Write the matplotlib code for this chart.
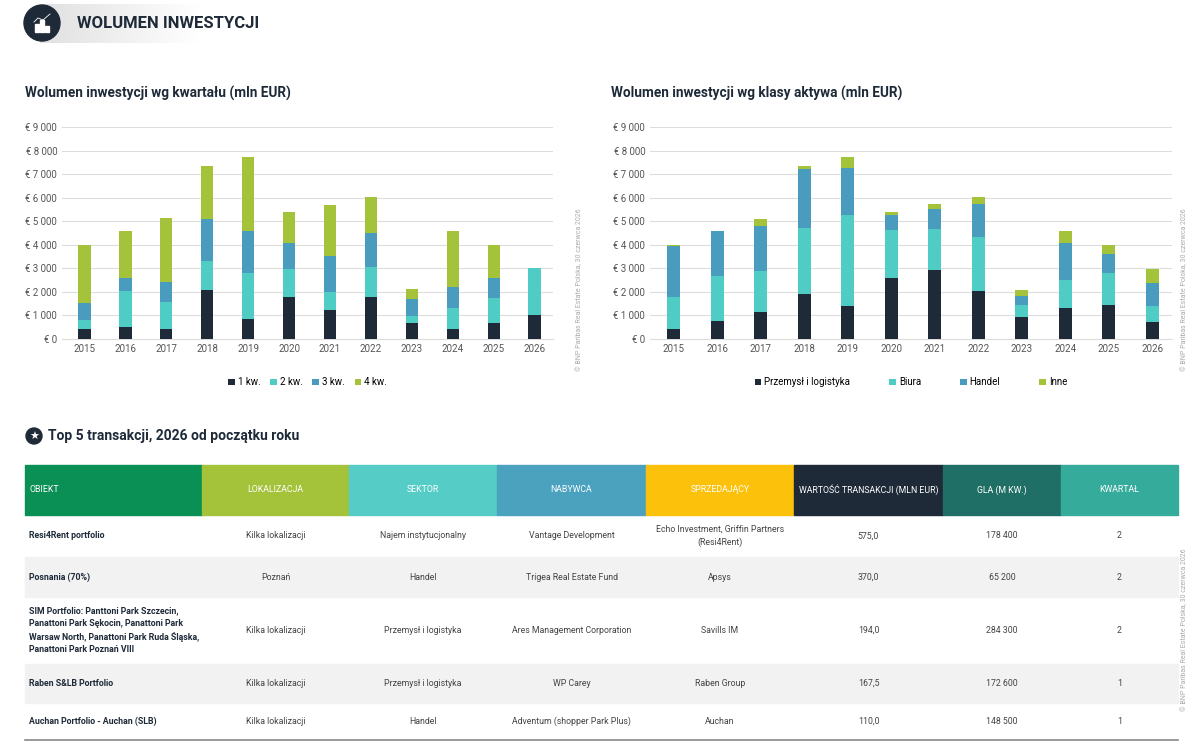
import numpy as np
import matplotlib
matplotlib.use('Agg')
import matplotlib.pyplot as plt
from matplotlib.patches import Rectangle, Circle

plt.rcParams['font.family'] = ['Roboto', 'DejaVu Sans']

years = ['2015', '2016', '2017', '2018', '2019', '2020', '2021', '2022', '2023', '2024', '2025', '2026']

# wolumen wg kwartalu (mln EUR)
q1 = [420, 490, 430, 2080, 830, 1770, 1210, 1770, 690, 420, 690, 1020]
q2 = [370, 1540, 1120, 1240, 1970, 1220, 780, 1280, 300, 890, 1050, 2000]
q3 = [720, 580, 890, 1760, 1780, 1080, 1540, 1470, 690, 910, 830, 0]
q4 = [2490, 1990, 2680, 2250, 3140, 1330, 2170, 1500, 430, 2380, 1430, 0]
quarter_labels = ['1 kw.', '2 kw.', '3 kw.', '4 kw.']

# wolumen wg klasy aktywa (mln EUR)
przemysl = [420, 760, 1130, 1890, 1400, 2570, 2910, 2030, 950, 1300, 1440, 730]
biura = [1350, 1900, 1740, 2830, 3880, 2050, 1750, 2280, 490, 1190, 1360, 650]
handel = [2180, 1920, 1920, 2510, 1980, 660, 880, 1410, 380, 1580, 800, 990]
inne = [50, 20, 320, 100, 450, 100, 170, 300, 260, 510, 380, 620]
asset_labels = ['Przemysł i logistyka', 'Biura', 'Handel', 'Inne']

yticks = list(range(0, 9001, 1000))
ytick_labels = ['€ ' + (f'{v:,}'.replace(',', ' ') if v >= 1000 else str(v)) for v in yticks]

col_names = ['OBIEKT', 'LOKALIZACJA', 'SEKTOR', 'NABYWCA', 'SPRZEDAJĄCY',
             'WARTOŚĆ TRANSAKCJI (MLN EUR)', 'GLA (M KW.)', 'KWARTAŁ']
rows = [
    ['Resi4Rent portfolio', 'Kilka lokalizacji', 'Najem instytucjonalny', 'Vantage Development',
     'Echo Investment, Griffin Partners\n(Resi4Rent)', '575,0', '178 400', '2'],
    ['Posnania (70%)', 'Poznań', 'Handel', 'Trigea Real Estate Fund', 'Apsys', '370,0', '65 200', '2'],
    ['SIM Portfolio: Panttoni Park Szczecin,\nPanattoni Park Sękocin, Panattoni Park\nWarsaw North, Panattoni Park Ruda Śląska,\nPanattoni Park Poznań VIII',
     'Kilka lokalizacji', 'Przemysł i logistyka', 'Ares Management Corporation', 'Savills IM', '194,0', '284 300', '2'],
    ['Raben S&LB Portfolio', 'Kilka lokalizacji', 'Przemysł i logistyka', 'WP Carey', 'Raben Group', '167,5', '172 600', '1'],
    ['Auchan Portfolio - Auchan (SLB)', 'Kilka lokalizacji', 'Handel', 'Adventum (shopper Park Plus)', 'Auchan', '110,0', '148 500', '1'],
]

colors4 = ['#1e2a38', '#4fcdc5', '#4a9cbf', '#a5c23b']
header_colors = ['#0a8f55', '#a5c23b', '#55cdc6', '#4ba2bf', '#fcc10a', '#1e2a38', '#1f6f66', '#35ab9c']

W, H = 1200, 755
fig = plt.figure(figsize=(12, 7.55), dpi=100)


def px_axes(x0, y0, x1, y1):
    return fig.add_axes([x0 / W, 1 - y1 / H, (x1 - x0) / W, (y1 - y0) / H])


# header
hdr = px_axes(0, 0, W, H)
hdr.set_xlim(0, W)
hdr.set_ylim(H, 0)
hdr.axis('off')
grad = np.linspace(0.88, 1.0, 256).reshape(1, -1)
hdr.imshow(np.dstack([grad, grad, grad]), extent=(40, 200, 43, 4), aspect='auto', zorder=0)
hdr.add_patch(Circle((42, 23), 18, color='#1e2a38', zorder=1))
for i, hh in enumerate([8, 12, 6]):
    hdr.add_patch(Rectangle((35 + i * 5, 32 - hh), 3.5, hh, color='white', zorder=2))
hdr.plot([34, 38, 43, 50], [22, 18, 20, 14], color='white', lw=0.6, zorder=2)
hdr.text(77, 23, 'WOLUMEN INWESTYCJI', fontsize=12, fontweight='bold', color='#1e2a38', va='center')
hdr.text(25, 93, 'Wolumen inwestycji wg kwartału (mln EUR)', fontsize=9.8, fontweight='bold', color='#1e2a38', va='center')
hdr.text(611, 93, 'Wolumen inwestycji wg klasy aktywa (mln EUR)', fontsize=9.8, fontweight='bold', color='#1e2a38', va='center')
hdr.add_patch(Circle((34, 436), 8, color='#1e2a38'))
hdr.text(34, 436.5, '★', fontsize=8, color='white', ha='center', va='center')
hdr.text(48, 436, 'Top 5 transakcji, 2026 od początku roku', fontsize=10, fontweight='bold', color='#1e2a38', va='center')
for xx, yy in [(580, 290), (1185, 290), (1185, 630)]:
    hdr.text(xx, yy, '© BNP Paribas Real Estate Polska, 30 czerwca 2026', rotation=90, fontsize=5,
             color='#aaaaaa', ha='center', va='center')
hdr.set_xlim(0, W)
hdr.set_ylim(H, 0)


def stacked(ax, series, labels, ncol_gap):
    x = np.arange(len(years))
    bottom = np.zeros(len(years))
    for s, c, lab in zip(series, colors4, labels):
        ax.bar(x, s, 0.3, bottom=bottom, color=c, label=lab, zorder=3)
        bottom += np.array(s)
    ax.set_ylim(0, 9000)
    ax.set_xlim(-0.55, len(years) - 0.55)
    ax.set_yticks(yticks)
    ax.set_yticklabels(ytick_labels)
    ax.set_xticks(x)
    ax.set_xticklabels(years)
    ax.grid(axis='y', color='#dddddd', lw=0.8, zorder=0)
    for sp in ax.spines.values():
        sp.set_visible(False)
    ax.spines['bottom'].set_visible(True)
    ax.spines['bottom'].set_color('#dddddd')
    ax.tick_params(length=0, labelsize=7, colors='#555555')
    ax.legend(loc='upper center', bbox_to_anchor=(0.5, -0.14), ncol=4, frameon=False, fontsize=7,
              handlelength=0.7, handleheight=0.7, columnspacing=ncol_gap, handletextpad=0.3)


ax1 = px_axes(62, 127, 553, 339)
stacked(ax1, [q1, q2, q3, q4], quarter_labels, 1.0)
ax2 = px_axes(650, 127, 1172, 339)
stacked(ax2, [przemysl, biura, handel, inne], asset_labels, 4.0)

# table
tb = px_axes(0, 0, W, H)
tb.set_xlim(0, W)
tb.set_ylim(H, 0)
tb.axis('off')
xs = [25, 202, 349, 497, 646, 794, 943, 1061, 1178]
ys = [465, 515, 557, 597, 664, 703, 740]
for i, name in enumerate(col_names):
    tb.add_patch(Rectangle((xs[i], ys[0]), xs[i + 1] - xs[i], ys[1] - ys[0], color=header_colors[i]))
    tb.text(xs[i] + 4 if i == 0 else (xs[i] + xs[i + 1]) / 2, (ys[0] + ys[1]) / 2, name,
            ha='left' if i == 0 else 'center', va='center', fontsize=6.3, color='white')
for r, row in enumerate(rows):
    y0, y1 = ys[r + 1], ys[r + 2]
    if r % 2 == 1:
        tb.add_patch(Rectangle((xs[0], y0), xs[-1] - xs[0], y1 - y0, color='#f2f2f2', zorder=0))
    for i, val in enumerate(row):
        tb.text(xs[i] + 4 if i == 0 else (xs[i] + xs[i + 1]) / 2, (y0 + y1) / 2, val,
                ha='left' if i == 0 else 'center', va='center', fontsize=6.3,
                color='#1e2a38' if i == 0 else '#444444', fontweight='bold' if i == 0 else 'normal',
                linespacing=1.5)
tb.plot([xs[0], xs[-1]], [ys[-1], ys[-1]], color='#888888', lw=1.2)

fig.savefig('out.png', dpi=100)
